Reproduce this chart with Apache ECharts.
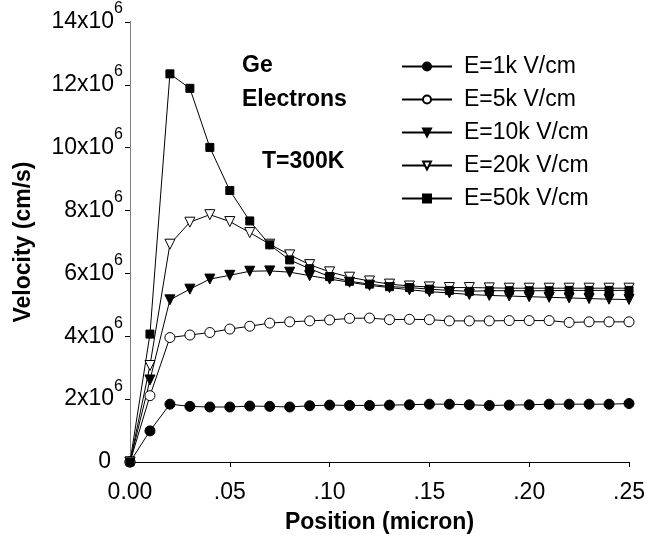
<!DOCTYPE html>
<html>
<head>
<meta charset="utf-8">
<script src="https://cdn.jsdelivr.net/npm/echarts@6/dist/echarts.min.js"></script>
<style>
  html, body { margin: 0; padding: 0; background: #fff; }
  #chart { width: 651px; height: 557px; }
</style>
</head>
<body>
<div id="chart"></div>
<script>
// Position along the device (micron)
const positions = [0.00, 0.01, 0.02, 0.03, 0.04, 0.05, 0.06, 0.07, 0.08, 0.09,
                   0.10, 0.11, 0.12, 0.13, 0.14, 0.15, 0.16, 0.17, 0.18, 0.19,
                   0.20, 0.21, 0.22, 0.23, 0.24, 0.25];

// Electron velocity, in units of 10^6 cm/s, for each applied field
const vel1k  = [0, 0.99, 1.84, 1.77, 1.75, 1.75, 1.78, 1.77, 1.75, 1.79,
                1.81, 1.80, 1.80, 1.81, 1.82, 1.84, 1.84, 1.82, 1.80, 1.81,
                1.82, 1.84, 1.84, 1.84, 1.84, 1.86];
const vel5k  = [0, 2.11, 3.96, 4.04, 4.12, 4.23, 4.32, 4.42, 4.46, 4.49,
                4.52, 4.57, 4.58, 4.53, 4.54, 4.53, 4.49, 4.49, 4.49, 4.50,
                4.50, 4.50, 4.44, 4.46, 4.46, 4.46];
const vel10k = [0, 2.61, 5.16, 5.50, 5.82, 5.94, 6.07, 6.08, 6.04, 5.93,
                5.82, 5.72, 5.62, 5.55, 5.48, 5.42, 5.38, 5.33, 5.30, 5.28,
                5.26, 5.24, 5.22, 5.20, 5.18, 5.17];
const vel20k = [0, 3.07, 6.93, 7.63, 7.87, 7.65, 7.30, 6.93, 6.59, 6.28,
                6.05, 5.88, 5.76, 5.66, 5.60, 5.57, 5.55, 5.55, 5.54, 5.53,
                5.53, 5.53, 5.53, 5.53, 5.53, 5.53];
const vel50k = [0, 4.07, 12.35, 11.89, 10.01, 8.64, 7.67, 6.91, 6.43, 6.15,
                5.90, 5.75, 5.66, 5.58, 5.55, 5.50, 5.46, 5.43, 5.45, 5.45,
                5.45, 5.45, 5.46, 5.46, 5.46, 5.46];

const seriesNames = ['E=1k V/cm', 'E=5k V/cm', 'E=10k V/cm', 'E=20k V/cm', 'E=50k V/cm'];

// Y tick labels: mantissa and exponent of each gridline value
const yTickMantissa = [0, 2, 4, 6, 8, 10, 12, 14];
const yTickExponent = '6';

const FONT = '"Liberation Sans", Arial, sans-serif';

function pairs(vals) {
  return positions.map((x, i) => [x, vals[i]]);
}

function makeSeries(name, vals, symbol, filled, rotate, size) {
  return {
    name: name,
    type: 'line',
    data: pairs(vals),
    symbol: symbol,
    symbolSize: size,
    symbolRotate: rotate,
    showAllSymbol: true,
    lineStyle: { color: '#000', width: 1 },
    itemStyle: { color: filled ? '#000' : '#fff', borderColor: '#000', borderWidth: 1 },
    emphasis: { disabled: true },
    animation: false
  };
}

const chart = echarts.init(document.getElementById('chart'), null, { renderer: 'canvas' });

chart.setOption({
  backgroundColor: '#fff',
  animation: false,
  grid: { left: 130, right: 22, top: 22, bottom: 95, show: false },
  legend: {
    orient: 'vertical',
    left: 396,
    top: 50,
    itemWidth: 50,
    itemHeight: 10,
    itemGap: 10,
    selectedMode: false,
    data: seriesNames,
    textStyle: { fontFamily: FONT, fontSize: 23, color: '#000', lineHeight: 23, padding: [0, 0, 0, 7] }
  },
  xAxis: [{
    type: 'value',
    min: 0, max: 0.25, interval: 0.05,
    name: 'Position (micron)',
    nameLocation: 'middle',
    nameGap: 49,
    nameTextStyle: { fontFamily: FONT, fontSize: 23, fontWeight: 'bold', color: '#000' },
    axisLine: { lineStyle: { color: '#000', width: 1 } },
    axisTick: { show: true, inside: false, length: 5, lineStyle: { color: '#000' } },
    splitLine: { show: false },
    axisLabel: {
      margin: 19,
      fontFamily: FONT, fontSize: 23, color: '#000',
      formatter: function (v) {
        const s = v.toFixed(2);
        return v === 0 ? s : s.replace(/^0/, '');
      }
    }
  }, {
    type: 'value', position: 'top', min: 0, max: 0.25,
    axisLine: { show: true, lineStyle: { color: '#000', width: 1 } },
    axisTick: { show: false }, axisLabel: { show: false }, splitLine: { show: false }
  }],
  yAxis: [{
    type: 'value',
    min: 0, max: 14, interval: 2,
    name: 'Velocity (cm/s)',
    nameLocation: 'middle',
    nameRotate: 90,
    nameGap: 95,
    nameTextStyle: { fontFamily: FONT, fontSize: 23, fontWeight: 'bold', color: '#000' },
    axisLine: { show: true, lineStyle: { color: '#000', width: 1 } },
    axisTick: { show: true, inside: false, length: 5, lineStyle: { color: '#000' } },
    splitLine: { show: false },
    axisLabel: {
      margin: 7,
      formatter: function (v) {
        if (v === 0) return '{z|0}';
        const m = yTickMantissa.find(t => t === v);
        return '{m|' + m + 'x10}{s|' + yTickExponent + '}';
      },
      rich: {
        m: { fontFamily: FONT, fontSize: 23, color: '#000', lineHeight: 42 },
        s: { fontFamily: FONT, fontSize: 16, color: '#000', lineHeight: 16, verticalAlign: 'top' },
        z: { fontFamily: FONT, fontSize: 23, color: '#000', lineHeight: 23, padding: [0, 12, 0, 0] }
      }
    }
  }, {
    type: 'value', position: 'right', min: 0, max: 14,
    axisLine: { show: true, lineStyle: { color: '#808080', width: 1 } },
    axisTick: { show: false }, axisLabel: { show: false }, splitLine: { show: false }
  }],
  graphic: [
    { type: 'text', left: 242, top: 54, style: { text: 'Ge', font: 'bold 23px ' + FONT, fill: '#000' } },
    { type: 'text', left: 242, top: 88, style: { text: 'Electrons', font: 'bold 23px ' + FONT, fill: '#000' } },
    { type: 'text', left: 262, top: 150, style: { text: 'T=300K', font: 'bold 23px ' + FONT, fill: '#000' } }
  ],
  series: [
    makeSeries(seriesNames[0], vel1k, 'circle', true, 0, 10),
    makeSeries(seriesNames[1], vel5k, 'circle', false, 0, 10),
    makeSeries(seriesNames[2], vel10k, 'triangle', true, 180, 10),
    makeSeries(seriesNames[3], vel20k, 'triangle', false, 180, 10),
    makeSeries(seriesNames[4], vel50k, 'rect', true, 0, 8)
  ]
});
</script>
</body>
</html>
